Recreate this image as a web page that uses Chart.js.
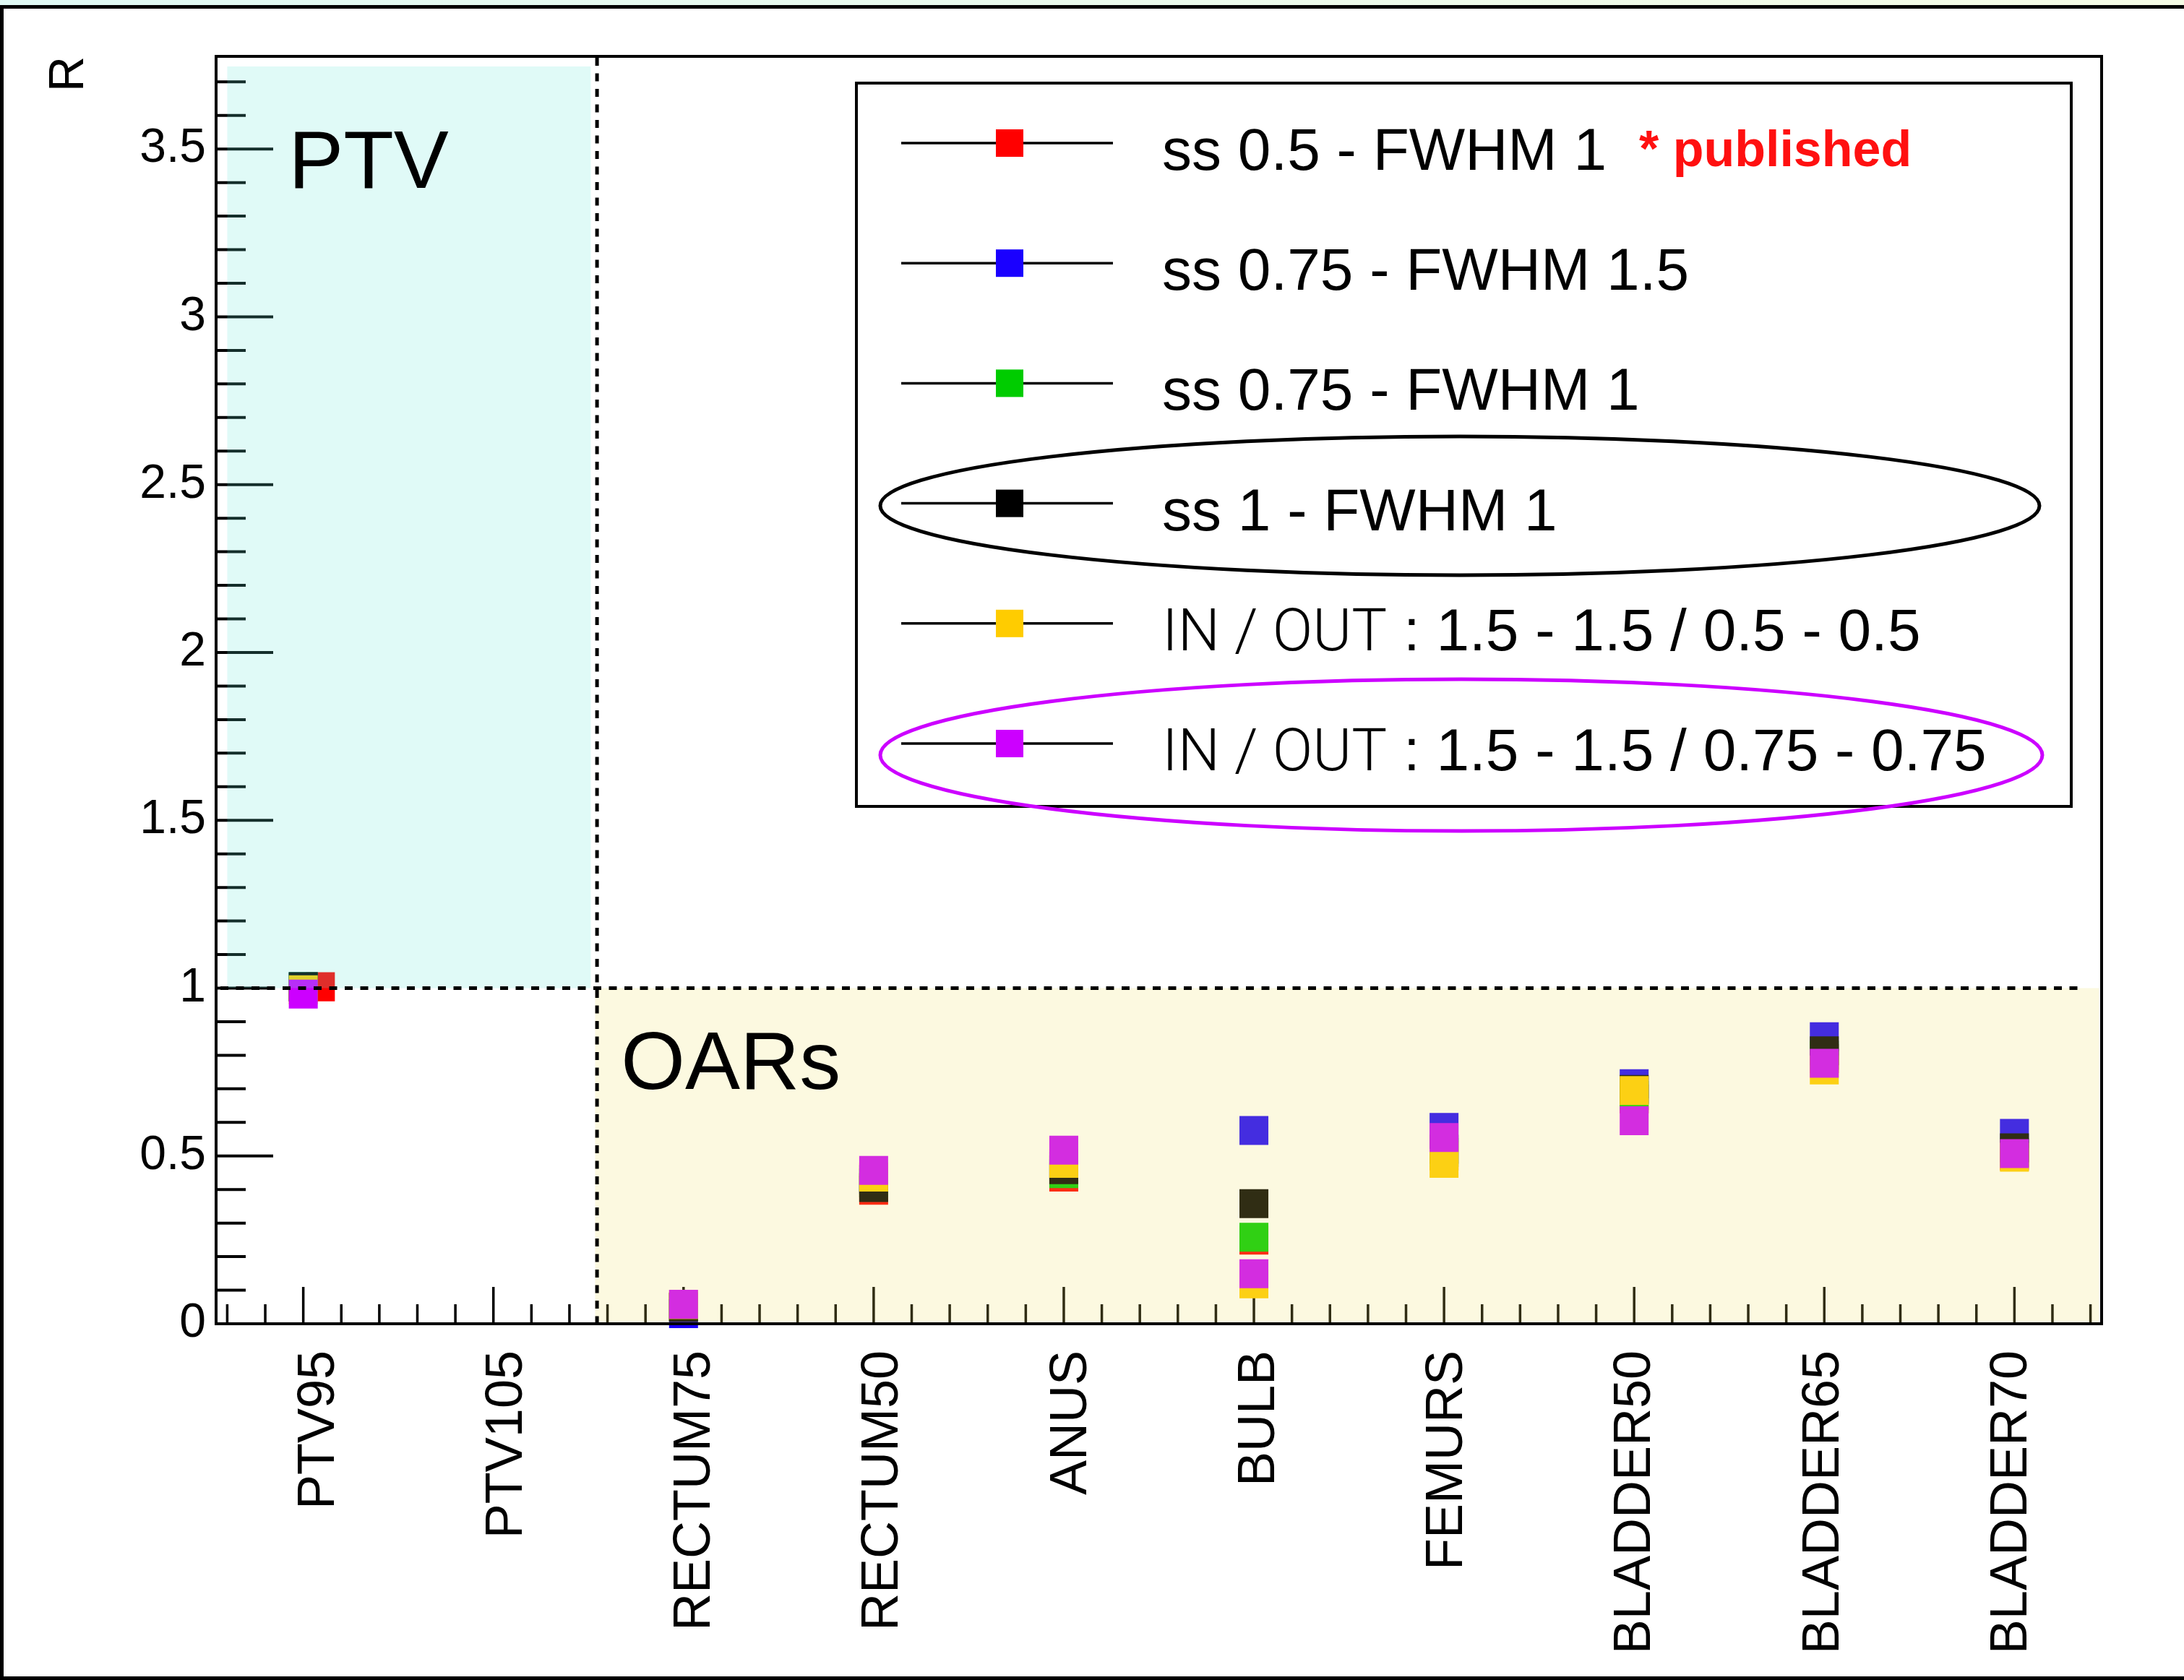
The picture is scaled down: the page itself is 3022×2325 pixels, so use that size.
<!DOCTYPE html>
<html>
<head>
<meta charset="utf-8">
<title>R per structure</title>
<script src="https://cdn.jsdelivr.net/npm/chart.js@4.4.1/dist/chart.umd.min.js"></script>
<style>
  html, body { margin: 0; padding: 0; background: #fff; overflow: hidden; }
  canvas { display: block; }
</style>
</head>
<body>
<canvas id="rChart" width="3022" height="2325"></canvas>
<script>
const structures = ['PTV95', 'PTV105', 'RECTUM75', 'RECTUM50', 'ANUS', 'BULB', 'FEMURS', 'BLADDER50', 'BLADDER65', 'BLADDER70'];

// R for each smoothing setup, one value per structure (PTV105 has none)
const ss05Fwhm1   = [1.004, null, 0.050, 0.398, 0.437, 0.249, 0.500, 0.670, 0.790, 0.500];
const ss075Fwhm15 = [1.004, null, 0.030, 0.430, 0.470, 0.576, 0.585, 0.715, 0.855, 0.567];
const ss075Fwhm1  = [1.004, null, 0.050, 0.420, 0.447, 0.258, 0.510, 0.680, 0.800, 0.510];
const ss1Fwhm1    = [1.004, null, 0.049, 0.406, 0.459, 0.358, 0.520, 0.698, 0.813, 0.524];
const inOut05     = [0.995, null, 0.057, 0.437, 0.478, 0.119, 0.478, 0.695, 0.756, 0.496];
const inOut075    = [0.982, null, 0.058, 0.457, 0.517, 0.149, 0.555, 0.605, 0.776, 0.507];

// the published set sits a little right of PTV95
const ss05Fwhm1X = [0.09, 1, 2, 3, 4, 5, 6, 7, 8, 9];

const seriesNames = [
  'ss 0.5 - FWHM 1',
  'ss 0.75 - FWHM 1.5',
  'ss 0.75 - FWHM 1',
  'ss 1 - FWHM 1',
  'IN / OUT : 1.5 - 1.5 / 0.5 - 0.5',
  'IN / OUT : 1.5 - 1.5 / 0.75 - 0.75'
];
const seriesValues = [ss05Fwhm1, ss075Fwhm15, ss075Fwhm1, ss1Fwhm1, inOut05, inOut075];
const seriesColors = ['#ff0000', '#1a00ff', '#00cc00', '#000000', '#ffcc00', '#cc00ff'];

const yTickValues = [0, 0.5, 1, 1.5, 2, 2.5, 3, 3.5];

// shaded regions in data units
const ptvBand = { x0: -0.4, x1: 1.512, y0: 1, y1: 3.746 };
const oarBand = { x0: 1.535, x1: 9.445, y0: 0.004, y1: 1 };
const splitX = 1.545;
const unityY = 1;

const FONT = '"Liberation Sans", Arial, Helvetica, sans-serif';
Chart.defaults.font.family = FONT;
Chart.defaults.color = '#000';

function line(ctx, x0, y0, x1, y1) {
  ctx.beginPath();
  ctx.moveTo(x0, y0);
  ctx.lineTo(x1, y1);
  ctx.stroke();
}

const rootStyle = {
  id: 'rootStyle',
  beforeDraw(chart) {
    const ctx = chart.ctx;
    ctx.save();
    ctx.fillStyle = '#fff';
    ctx.fillRect(0, 0, chart.width, chart.height);
    const g = ctx.createLinearGradient(0, 0, chart.width, 0);
    g.addColorStop(0, '#e0faf5');
    g.addColorStop(1, '#f5fbe5');
    ctx.fillStyle = g;
    ctx.fillRect(0, 0, chart.width, 7);
    ctx.restore();
  },
  // inward tick marks, under the markers
  beforeDatasetsDraw(chart) {
    const ctx = chart.ctx;
    const { left, bottom } = chart.chartArea;
    const xs = chart.scales.x, ys = chart.scales.y;
    ctx.save();
    ctx.strokeStyle = '#000';
    ctx.lineWidth = 4;
    for (let k = 1; k * 0.1 <= ys.max + 1e-9; k++) {
      const py = ys.getPixelForValue(k * 0.1);
      line(ctx, left, py, left + (k % 5 === 0 ? 79 : 41), py);
    }
    ctx.lineWidth = 3.5;
    for (let k = Math.ceil(xs.min / 0.2); k * 0.2 <= xs.max; k++) {
      const px = xs.getPixelForValue(k * 0.2);
      line(ctx, px, bottom, px, bottom - (k % 5 === 0 ? 51 : 27));
    }
    ctx.restore();
  },
  afterDatasetsDraw(chart) {
    const ctx = chart.ctx;
    const { left, right, top, bottom } = chart.chartArea;
    const xs = chart.scales.x, ys = chart.scales.y;
    const X = v => xs.getPixelForValue(v);
    const Y = v => ys.getPixelForValue(v);
    ctx.save();

    // translucent bands laid over everything in the frame
    ctx.fillStyle = 'rgba(100,230,215,0.2)';
    ctx.fillRect(X(ptvBand.x0), Y(ptvBand.y1), X(ptvBand.x1) - X(ptvBand.x0), Y(ptvBand.y0) - Y(ptvBand.y1));
    ctx.fillStyle = 'rgba(240,225,100,0.2)';
    ctx.fillRect(X(oarBand.x0), Y(oarBand.y1), X(oarBand.x1) - X(oarBand.x0), Y(oarBand.y0) - Y(oarBand.y1));

    // dashed separators
    ctx.strokeStyle = '#000';
    ctx.lineWidth = 5;
    ctx.setLineDash([11, 10.5]);
    line(ctx, left + 6, Y(unityY), X(9.36), Y(unityY));
    line(ctx, X(splitX), top + 2, X(splitX), bottom);
    ctx.setLineDash([]);

    // frame
    ctx.lineWidth = 4;
    ctx.strokeRect(left, top, right - left, bottom - top);

    // region names
    ctx.fillStyle = '#000';
    ctx.font = '114px ' + FONT;
    ctx.textAlign = 'left';
    ctx.textBaseline = 'alphabetic';
    ctx.fillText('PTV', X(-0.078), Y(3.384));
    ctx.fillText('OARs', X(1.671), Y(0.70));

    // category names, rotated
    ctx.font = '72px ' + FONT;
    ctx.textAlign = 'right';
    ctx.textBaseline = 'middle';
    structures.forEach((name, i) => {
      ctx.save();
      ctx.translate(X(i) + 22 - 2.8 * i, bottom + 37);
      ctx.rotate(-Math.PI / 2);
      ctx.fillText(name, 0, 0);
      ctx.restore();
    });

    // legend box
    const lx = 1185, ly = 115, lw = 1681, lh = 1001;
    ctx.fillStyle = '#fff';
    ctx.fillRect(lx, ly, lw, lh);
    ctx.lineWidth = 4;
    ctx.strokeStyle = '#000';
    ctx.strokeRect(lx, ly, lw, lh);

    chart.data.datasets.forEach((ds, i) => {
      const ry = ly + 83 + i * 166.2;
      ctx.lineWidth = 3.5;
      ctx.strokeStyle = '#000';
      line(ctx, lx + 62, ry, lx + 355, ry);
      ctx.fillStyle = ds.pointBackgroundColor;
      ctx.fillRect(lx + 212 - 19, ry - 19, 38, 38);

      const tx = lx + 423, ty = ry + 37;
      ctx.fillStyle = '#000';
      ctx.textAlign = 'left';
      ctx.textBaseline = 'alphabetic';
      const label = ds.label;
      if (label.startsWith('IN / OUT')) {
        const head = 'IN / OUT';
        ctx.font = '300 82px Roboto, ' + FONT;
        ctx.fillText(head, tx, ty);
        const w = ctx.measureText(head).width;
        ctx.font = '82px ' + FONT;
        ctx.fillText(label.slice(head.length), tx + w, ty);
      } else {
        ctx.font = '82px ' + FONT;
        ctx.fillText(label, tx, ty);
      }
      if (i === 0) {
        ctx.fillStyle = '#ff1010';
        ctx.font = 'bold 70px ' + FONT;
        ctx.fillText('* published', 2268, ly + 115);
      }
    });

    // rings around the two highlighted entries
    ctx.lineWidth = 5;
    ctx.strokeStyle = '#000';
    ctx.beginPath();
    ctx.ellipse(2020, 700, 802, 96, 0, 0, Math.PI * 2);
    ctx.stroke();
    ctx.strokeStyle = '#cc00ff';
    ctx.beginPath();
    ctx.ellipse(2022, 1045, 804, 105, 0, 0, Math.PI * 2);
    ctx.stroke();

    // outer border
    ctx.strokeStyle = '#000';
    ctx.lineWidth = 5;
    line(ctx, 0, 9.5, chart.width, 9.5);
    line(ctx, 2.5, 7, 2.5, chart.height);
    line(ctx, 0, chart.height - 2.5, chart.width, chart.height - 2.5);
    ctx.restore();
  }
};

// later series are painted over earlier ones
const datasets = seriesValues.map((vals, s) => ({
  label: seriesNames[s],
  order: seriesValues.length - s,
  data: vals
    .map((v, i) => ({ x: s === 0 ? ss05Fwhm1X[i] : i, y: v }))
    .filter(p => p.y !== null),
  pointStyle: 'rect',
  pointRadius: 28.3,
  pointBackgroundColor: seriesColors[s],
  pointBorderWidth: 0,
  showLine: false,
  clip: false
}));

new Chart(document.getElementById('rChart'), {
  type: 'scatter',
  data: { datasets },
  options: {
    responsive: false,
    animation: false,
    events: [],
    layout: { padding: { top: 78, right: 114, left: 0, bottom: 0 } },
    plugins: {
      legend: { display: false },
      tooltip: { enabled: false }
    },
    scales: {
      x: {
        type: 'linear',
        min: -0.4586,
        max: 9.4586,
        grid: { display: false, drawTicks: false },
        border: { display: false },
        ticks: { display: false },
        afterFit(scale) { scale.height = 493; }
      },
      y: {
        type: 'linear',
        min: 0,
        max: 3.776,
        grid: { display: false, drawTicks: false },
        border: { display: false },
        afterBuildTicks(scale) { scale.ticks = yTickValues.map(v => ({ value: v })); },
        ticks: {
          padding: 14,
          color: '#000',
          font: { size: 66 },
          callback: v => String(v)
        },
        title: {
          display: true,
          text: 'R',
          align: 'end',
          color: '#000',
          font: { size: 68 },
          padding: { top: 55, bottom: 0 }
        },
        afterFit(scale) { scale.width = 299; }
      }
    }
  },
  plugins: [rootStyle]
});
</script>
</body>
</html>
